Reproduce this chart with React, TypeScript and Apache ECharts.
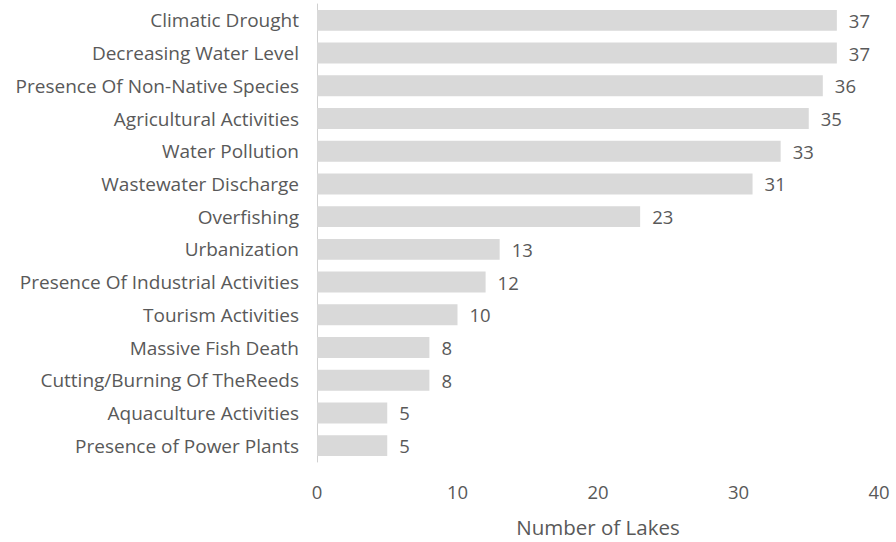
import React, { useEffect, useRef } from "react";
import * as echarts from "echarts";

const categories = [
  "Climatic Drought",
  "Decreasing Water Level",
  "Presence Of Non-Native Species",
  "Agricultural Activities",
  "Water Pollution",
  "Wastewater Discharge",
  "Overfishing",
  "Urbanization",
  "Presence Of Industrial Activities",
  "Tourism Activities",
  "Massive Fish Death",
  "Cutting/Burning Of TheReeds",
  "Aquaculture Activities",
  "Presence of Power Plants",
];
const values = [37, 37, 36, 35, 33, 31, 23, 13, 12, 10, 8, 8, 5, 5];
const xTicks = [0, 10, 20, 30, 40];

const FONT = "Open Sans";
const TEXT = "#595959";

export default function App() {
  const ref = useRef<HTMLDivElement>(null);
  useEffect(() => {
    if (!ref.current) return;
    const chart = echarts.init(ref.current, undefined, { renderer: "svg" });
    chart.setOption({
      animation: false,
      grid: { left: 317, right: 17, top: 4, bottom: 79, containLabel: false },
      xAxis: {
        type: "value",
        min: xTicks[0],
        max: xTicks[xTicks.length - 1],
        interval: 10,
        name: "Number of Lakes",
        nameLocation: "middle",
        nameGap: 54,
        nameTextStyle: { color: TEXT, fontFamily: FONT, fontSize: 20.5 },
        axisLine: { show: false },
        axisTick: { show: false },
        splitLine: { show: false },
        axisLabel: { color: TEXT, fontFamily: FONT, fontSize: 18.5, margin: 20 },
      },
      yAxis: {
        type: "category",
        data: categories,
        inverse: true,
        axisLine: { show: true, lineStyle: { color: "#d0d0d0", width: 1 } },
        axisTick: { show: false },
        axisLabel: { color: TEXT, fontFamily: FONT, fontSize: 19, margin: 18 },
      },
      series: [
        {
          type: "bar",
          data: values,
          barCategoryGap: "36%",
          itemStyle: { color: "#d9d9d9" },
          label: {
            show: true,
            position: "right",
            distance: 12,
            color: TEXT,
            fontFamily: FONT,
            fontSize: 18.5,
          },
        },
      ],
    });
    return () => chart.dispose();
  }, []);
  return <div ref={ref} style={{ width: 896, height: 542, position: "absolute", left: 0, top: 0 }} />;
}
